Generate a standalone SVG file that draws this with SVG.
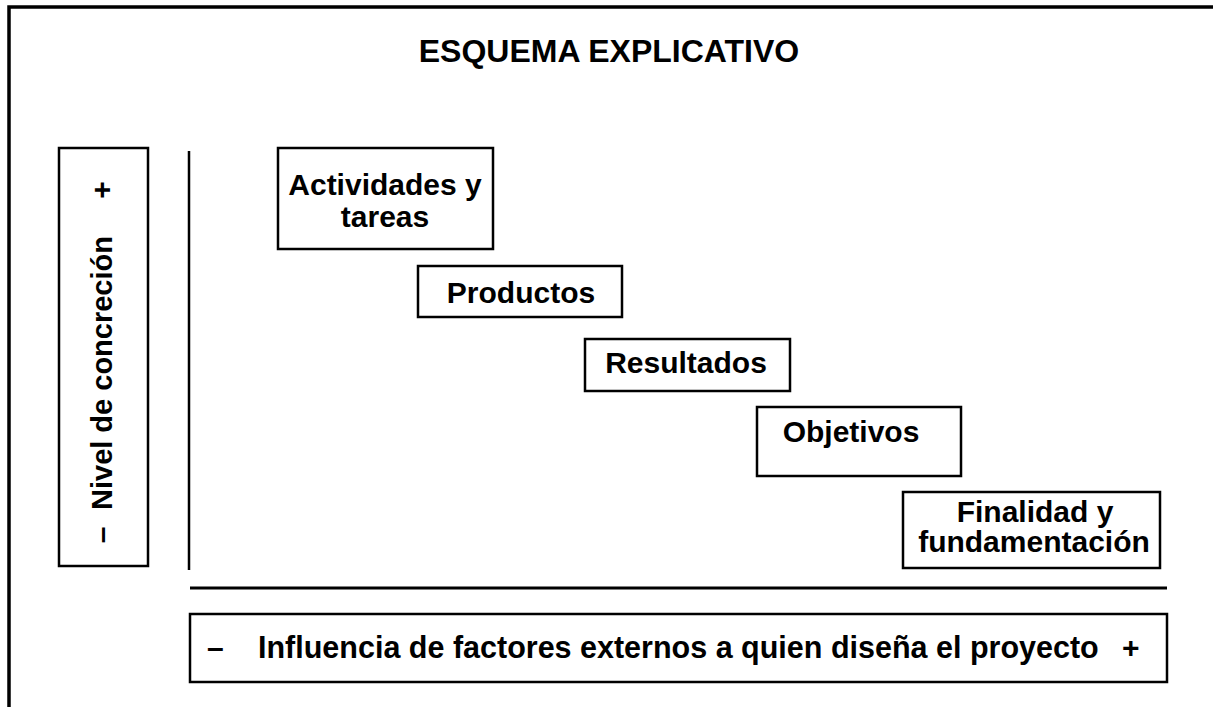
<svg xmlns="http://www.w3.org/2000/svg" width="1213" height="707" viewBox="0 0 1213 707">
<style>
.box{fill:#fff;stroke:#000;stroke-width:2.5}
.ln{stroke:#000;fill:none}
.t{font-family:"Liberation Sans",Arial,sans-serif;font-weight:bold;font-size:30px;fill:#000}
.c{text-anchor:middle}
</style>
<rect width="1213" height="707" fill="#fff"/>
<g id="frame">
<path class="ln" d="M9,707 V7 H1213" stroke-width="3.5"/>
</g>
<g id="title"><text class="t c" x="609" y="62" style="font-size:32px">ESQUEMA EXPLICATIVO</text></g>
<g id="axis-vertical">
<rect class="box" x="59" y="148" width="89" height="418"/>
<text class="t c" transform="translate(112,373) rotate(-90)" style="font-size:29px">Nivel de concreción</text>
<text class="t c" transform="translate(112,190) rotate(-90)">+</text>
<text class="t c" transform="translate(112,535) rotate(-90)">–</text>
</g>
<g id="connectors">
<line class="ln" x1="189" y1="151" x2="189" y2="570" stroke-width="2.5"/>
<line class="ln" x1="190" y1="588" x2="1167" y2="588" stroke-width="3"/>
</g>
<g id="n-actividades">
<rect class="box" x="278" y="148" width="215" height="101"/>
<text class="t c" x="385" y="195">Actividades y</text>
<text class="t c" x="385" y="227">tareas</text>
</g>
<g id="n-productos">
<rect class="box" x="418" y="266" width="204" height="51"/>
<text class="t c" x="521" y="303">Productos</text>
</g>
<g id="n-resultados">
<rect class="box" x="585" y="339" width="205" height="52"/>
<text class="t c" x="686" y="373">Resultados</text>
</g>
<g id="n-objetivos">
<rect class="box" x="757" y="407" width="204" height="69"/>
<text class="t c" x="851" y="442">Objetivos</text>
</g>
<g id="n-finalidad">
<rect class="box" x="903" y="492" width="257" height="76"/>
<text class="t c" x="1035" y="522">Finalidad y</text>
<text class="t c" x="1034" y="552">fundamentación</text>
</g>
<g id="axis-horizontal">
<rect class="box" x="190" y="614" width="977" height="68"/>
<text class="t" x="207" y="658">–</text>
<text class="t" x="258" y="658" style="font-size:30.5px">Influencia de factores externos a quien diseña el proyecto</text>
<text class="t" x="1122" y="658">+</text>
</g>
</svg>
